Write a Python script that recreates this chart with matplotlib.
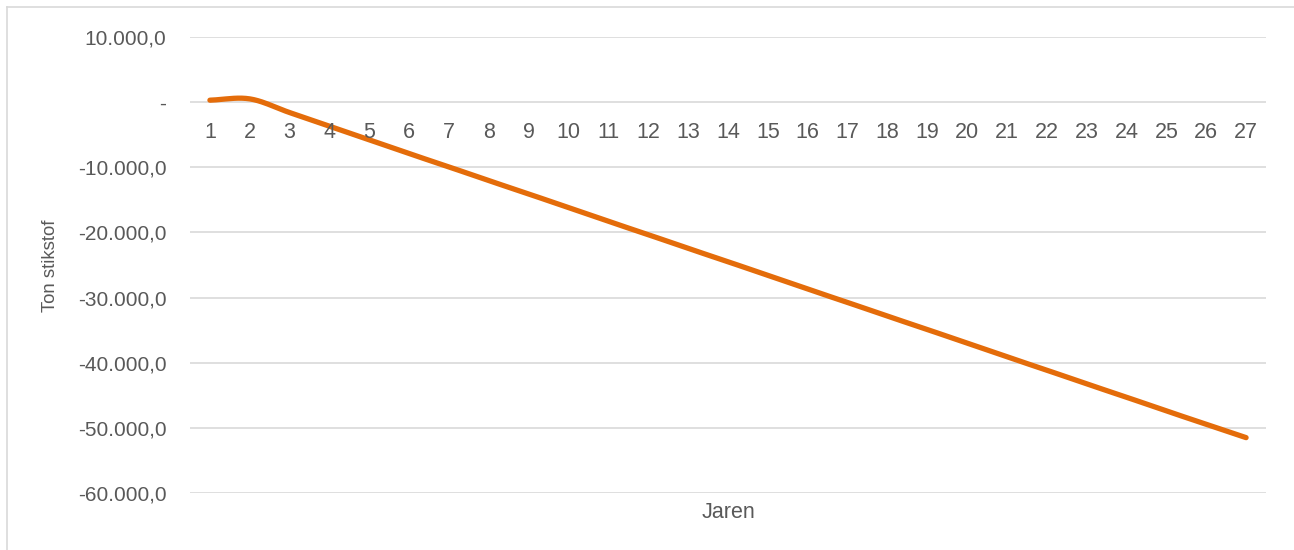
import numpy as np
import matplotlib.pyplot as plt
from matplotlib.ticker import FuncFormatter
from matplotlib.lines import Line2D

plt.rcParams['font.family'] = ['Liberation Sans', 'DejaVu Sans']

# ---- data ----
jaren = list(range(1, 28))
stikstof = [300, 500, -1600, -3700, -5800, -7900, -9950, -12050, -14100,
            -16200, -18300, -20350, -22450, -24500, -26600, -28700, -30750,
            -32850, -34900, -37000, -39100, -41150, -43250, -45300, -47400,
            -49450, -51500]
y_ticks = [10000, 0, -10000, -20000, -30000, -40000, -50000, -60000]

kleur_lijn = '#E46C0A'
kleur_tekst = '#595959'
kleur_grid = '#D9D9D9'


def smooth(x, y, n=20):
    # catmull-rom, zoals de "vloeiende lijn" van Excel
    x = np.asarray(x, float)
    y = np.asarray(y, float)
    px = np.concatenate(([2*x[0]-x[1]], x, [2*x[-1]-x[-2]]))
    py = np.concatenate(([2*y[0]-y[1]], y, [2*y[-1]-y[-2]]))
    xs, ys = [], []
    t = np.linspace(0, 1, n, endpoint=False)
    for i in range(1, len(px) - 2):
        for p, out in ((px, xs), (py, ys)):
            p0, p1, p2, p3 = p[i-1], p[i], p[i+1], p[i+2]
            out.extend(0.5*((2*p1) + (-p0+p2)*t + (2*p0-5*p1+4*p2-p3)*t**2
                            + (-p0+3*p1-3*p2+p3)*t**3))
    xs.append(x[-1])
    ys.append(y[-1])
    return np.array(xs), np.array(ys)


fig = plt.figure(figsize=(12.94, 5.5), dpi=100)
ax = fig.add_axes([190/1294, 57/550, 1076/1294, 456/550])

ax.set_xlim(0.5, 27.5)
ax.set_ylim(-60000, 10000)
ax.set_yticks(y_ticks)
ax.yaxis.set_major_formatter(FuncFormatter(
    lambda v, p: '-' if v == 0 else
    ('{:,.1f}'.format(v)).replace(',', 'X').replace('.', ',').replace('X', '.')))
ax.grid(axis='y', color=kleur_grid, linewidth=1.2)
ax.set_axisbelow(True)
for s in ax.spines.values():
    s.set_visible(False)
ax.tick_params(axis='y', length=0, pad=17, labelsize=15, labelcolor=kleur_tekst)
ax.set_xticks([])

sx, sy = smooth(jaren, stikstof)
ax.plot(sx, sy, color=kleur_lijn, linewidth=3.8, solid_capstyle='round')

# categorie-labels net onder de nul-lijn
for j in jaren:
    ax.annotate(str(j), (j, 0), xytext=(0, -21.5), textcoords='offset points',
                ha='center', va='center', fontsize=15.5, color=kleur_tekst)

fig.text(51/1294, 1 - 266/550, 'Ton stikstof', rotation=90, ha='center',
         va='center', fontsize=13.4, color=kleur_tekst)
fig.text(728/1294, 1 - 513/550, 'Jaren', ha='center', va='center',
         fontsize=15.5, color=kleur_tekst)

# rand van het grafiekvlak
fig.add_artist(Line2D([7/1294, 7/1294], [0, 1 - 7/550], color=kleur_grid, lw=1.2))
fig.add_artist(Line2D([7/1294, 1], [1 - 7/550, 1 - 7/550], color=kleur_grid, lw=1.2))

fig.savefig('out.png', dpi=100)
